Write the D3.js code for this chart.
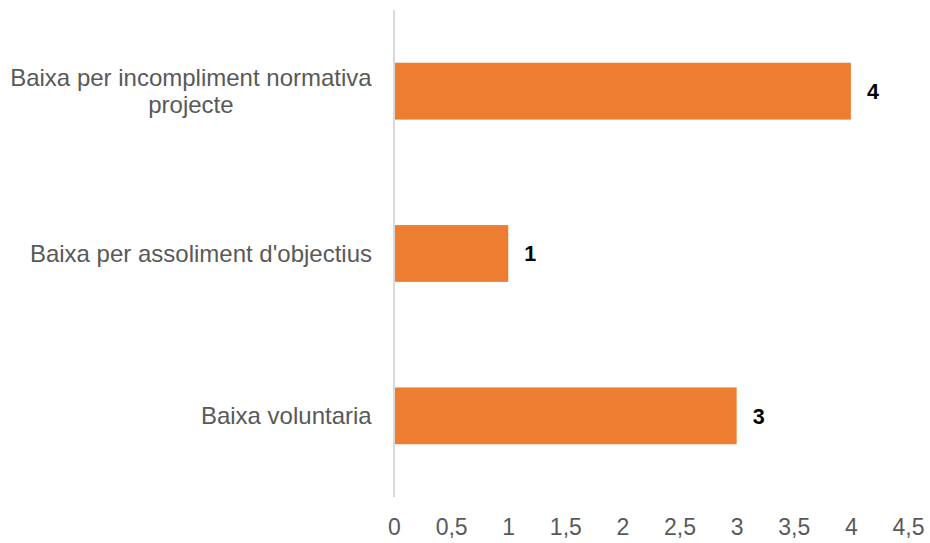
<!DOCTYPE html>
<html>
<head>
<meta charset="utf-8">
<script src="https://cdn.jsdelivr.net/npm/d3@7"></script>
<style>
  html, body { margin: 0; padding: 0; background: #fff; }
  svg { display: block; font-family: "Liberation Sans", Arial, sans-serif; }
</style>
</head>
<body>
<svg id="chart" width="930" height="543"></svg>
<script>
// Reasons for leaving (baixes) and how many cases each
const categories = [
  ["Baixa per incompliment normativa", "projecte"],
  ["Baixa per assoliment d'objectius"],
  ["Baixa voluntaria"]
];
const values = [4, 1, 3];
const tickValues = [0, 0.5, 1, 1.5, 2, 2.5, 3, 3.5, 4, 4.5];

const svg = d3.select("#chart");
const plotLeft = 394, plotRight = 908, plotTop = 10, plotBottom = 497;

const x = d3.scaleLinear().domain([0, 4.5]).range([plotLeft, plotRight]);
const y = d3.scaleBand()
  .domain(d3.range(categories.length))
  .range([plotTop, plotBottom])
  .paddingInner(0.65)
  .paddingOuter(0.325);

// Bars
svg.append("g").selectAll("rect")
  .data(values)
  .join("rect")
  .attr("x", x(0))
  .attr("y", (d, i) => y(i))
  .attr("width", d => x(d) - x(0))
  .attr("height", y.bandwidth())
  .attr("fill", "#ED7D31");

// Vertical category axis line
svg.append("line")
  .attr("x1", x(0)).attr("x2", x(0))
  .attr("y1", plotTop).attr("y2", plotBottom)
  .attr("stroke", "#D9D9D9")
  .attr("stroke-width", 2);

// Value axis (labels only)
const xAxis = d3.axisBottom(x)
  .tickValues(tickValues)
  .tickSize(0)
  .tickPadding(0)
  .tickFormat(d => String(d).replace(".", ","));
const gx = svg.append("g")
  .attr("transform", `translate(0,${plotBottom + 22})`)
  .call(xAxis);
gx.select(".domain").remove();
gx.selectAll("text")
  .attr("font-size", 23)
  .attr("font-family", "Liberation Sans, Arial, sans-serif")
  .attr("fill", "#595959");

// Category labels, centred per line, right-aligned as a block
const labelRight = 372;
const lineH = 27;
const catG = svg.append("g");
categories.forEach((lines, i) => {
  const cy = y(i) + y.bandwidth() / 2;
  const t = catG.append("text")
    .attr("font-size", 24)
    .attr("fill", "#595959")
    .attr("text-anchor", "middle");
  lines.forEach((ln, j) => {
    t.append("tspan")
      .attr("x", 0)
      .attr("y", cy + (j - (lines.length - 1) / 2) * lineH)
      .attr("dy", "0.35em")
      .text(ln);
  });
  const w = t.node().getBBox().width;
  t.attr("transform", `translate(${labelRight - w / 2},0)`);
});

// Value labels
svg.append("g").selectAll("text")
  .data(values)
  .join("text")
  .attr("x", d => x(d) + 16)
  .attr("y", (d, i) => y(i) + y.bandwidth() / 2)
  .attr("dy", "0.36em")
  .attr("font-size", 21.5)
  .attr("font-weight", "bold")
  .attr("fill", "#000")
  .text(d => d);
</script>
</body>
</html>
